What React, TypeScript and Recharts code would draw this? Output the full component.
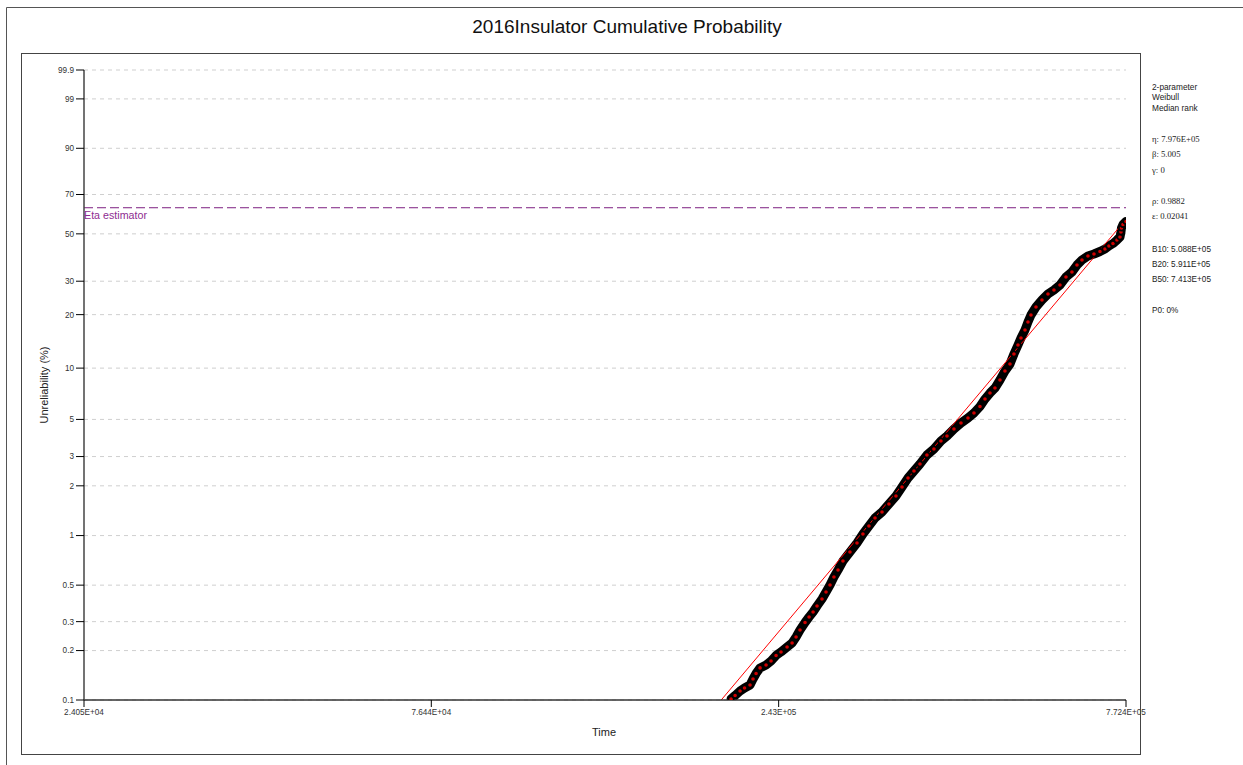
import React from "react";
import { ComposedChart, Line, XAxis, YAxis, CartesianGrid, ReferenceLine } from "recharts";

// failure times and their median-rank unreliability in %
const failureTime = [
  2.074e5, 2.102e5, 2.137e5, 2.169e5, 2.209e5, 2.231e5, 2.254e5, 2.284e5, 2.33e5, 2.369e5,
  2.409e5, 2.449e5, 2.499e5, 2.541e5, 2.575e5, 2.609e5, 2.653e5, 2.689e5, 2.725e5, 2.761e5,
  2.807e5, 2.845e5, 2.883e5, 2.921e5, 2.961e5, 3.01e5, 3.081e5, 3.154e5, 3.217e5, 3.282e5,
  3.349e5, 3.428e5, 3.508e5, 3.591e5, 3.664e5, 3.738e5, 3.813e5, 3.89e5, 3.981e5, 4.075e5,
  4.171e5, 4.256e5, 4.356e5, 4.459e5, 4.564e5, 4.656e5, 4.75e5, 4.83e5, 4.911e5, 4.993e5,
  5.077e5, 5.162e5, 5.249e5, 5.319e5, 5.391e5, 5.445e5, 5.518e5, 5.573e5, 5.629e5, 5.724e5,
  5.839e5, 5.957e5, 6.077e5, 6.2e5, 6.325e5, 6.452e5, 6.561e5, 6.671e5, 6.805e5, 6.943e5,
  7.083e5, 7.202e5, 7.298e5, 7.396e5, 7.495e5, 7.571e5, 7.596e5, 7.608e5, 7.647e5, 7.724e5,
];
const unreliability = [
  0.1015, 0.1065, 0.1135, 0.1184, 0.1235, 0.1343, 0.1451, 0.1568, 0.1635, 0.1729,
  0.1868, 0.1962, 0.2104, 0.2226, 0.2421, 0.2668, 0.2964, 0.3201, 0.3433, 0.3734,
  0.4119, 0.4544, 0.5011, 0.5604, 0.6181, 0.701, 0.795, 0.9014, 1.022, 1.143,
  1.278, 1.389, 1.553, 1.736, 1.967, 2.229, 2.457, 2.707, 3.065, 3.33,
  3.718, 3.982, 4.384, 4.76, 5.097, 5.457, 5.962, 6.602, 7.16, 7.66,
  8.531, 9.622, 10.56, 12.05, 13.56, 14.85, 16.46, 18.23, 19.91, 21.99,
  23.96, 25.78, 27.04, 28.69, 31.5, 33.36, 36.09, 38.14, 39.83, 40.69,
  41.79, 42.9, 44.26, 45.41, 47.05, 48.48, 50.91, 52.88, 54.63, 56.15,
];

// fitted 2-parameter Weibull line, end points
const fitTime = [2.007e5, 7.724e5];
const fitUnreliability = [0.1, 57.3];

const yTicks = [0.1, 0.2, 0.3, 0.5, 1, 2, 3, 5, 10, 20, 30, 50, 70, 90, 99, 99.9];
const xTicks = [24050, 76440, 243000, 772400];
const xTickLabels = ["2.405E+04", "7.644E+04", "2.43E+05", "7.724E+05"];
const etaUnreliability = 63.21;

const infoHeader = ["2-parameter", "Weibull", "Median rank"];
const infoParams = ["η: 7.976E+05", "β: 5.005", "γ: 0", "", "ρ: 0.9882", "ε: 0.02041"];
const infoLife = ["B10: 5.088E+05", "B20: 5.911E+05", "B50: 7.413E+05", "", "P0: 0%"];

// Weibull probability paper transform
const weib = (pct: number) => Math.log(-Math.log(1 - pct / 100));

const curveData = failureTime.map((t, i) => ({ t, w: weib(unreliability[i]) }));
const fitData = fitTime.map((t, i) => ({ t, w: weib(fitUnreliability[i]) }));
const yTickW = yTicks.map(weib);

const tickStyle = { fill: "#333", fontSize: 8.2, fontFamily: "Arial, 'Liberation Sans', sans-serif" };

export default function App() {
  return (
    <div style={{ position: "absolute", left: 0, top: 0, width: 1243, height: 765, background: "#fff", overflow: "hidden" }}>
      <ComposedChart
        width={1243}
        height={765}
        margin={{ top: 70, right: 117, bottom: 35, left: 20 }}
      >
        <CartesianGrid vertical={false} stroke="#cfcfcf" strokeDasharray="4 4" />
        <XAxis
          type="number"
          dataKey="t"
          scale="log"
          domain={[xTicks[0], xTicks[3]]}
          ticks={xTicks}
          allowDataOverflow
          height={30}
          tickSize={7}
          tickMargin={2}
          tick={tickStyle}
          tickFormatter={(v: number) => xTickLabels[xTicks.indexOf(v)] ?? ""}
          axisLine={{ stroke: "#333", strokeWidth: 1.5 }}
          tickLine={{ stroke: "#000" }}
        />
        <YAxis
          type="number"
          dataKey="w"
          domain={[yTickW[0], yTickW[yTickW.length - 1]]}
          ticks={yTickW}
          allowDataOverflow
          width={64}
          tickSize={8}
          tickMargin={2}
          tick={tickStyle}
          tickFormatter={(v: number) => {
            const i = yTickW.findIndex((w) => Math.abs(w - v) < 1e-6);
            return i >= 0 ? String(yTicks[i]) : "";
          }}
          axisLine={{ stroke: "#444", strokeWidth: 1.5 }}
          tickLine={{ stroke: "#000" }}
        />
        <ReferenceLine y={weib(etaUnreliability)} stroke="#7d1f80" strokeDasharray="9 4" />
        <Line
          data={curveData}
          dataKey="w"
          stroke="#000"
          strokeWidth={9}
          strokeLinejoin="round"
          strokeLinecap="round"
          dot={{ r: 2.6, fill: "#d00000", stroke: "#000", strokeWidth: 1.6 }}
          isAnimationActive={false}
        />
        <Line
          data={fitData}
          dataKey="w"
          stroke="#ff0000"
          strokeWidth={1}
          dot={false}
          isAnimationActive={false}
        />
      </ComposedChart>
      <svg
        width={1243}
        height={765}
        style={{ position: "absolute", left: 0, top: 0, pointerEvents: "none" }}
        fontFamily="Arial, 'Liberation Sans', sans-serif"
      >
        <path d="M6.5 765 V7.5 H1243" fill="none" stroke="#555" />
        <rect x={21.5} y={53.5} width={1119} height={701} fill="none" stroke="#444" />
        <text x={627} y={33} textAnchor="middle" fontSize={19} fill="#111">
          2016Insulator Cumulative Probability
        </text>
        <text x={604} y={736} textAnchor="middle" fontSize={11} fill="#222">Time</text>
        <text
          x={45}
          y={385}
          textAnchor="middle"
          dominantBaseline="middle"
          fontSize={11}
          fill="#222"
          transform="rotate(-90 45 385)"
        >
          Unreliability (%)
        </text>
        <text x={84} y={219} fontSize={10.7} fill="#8e2c91">Eta estimator</text>
        {infoHeader.map((s, i) => (
          <text key={s} x={1152} y={90 + i * 10.4} fontSize={8.3} fill="#222">{s}</text>
        ))}
        {infoParams.map((s, i) =>
          s ? (
            <text key={s} x={1152} y={142 + i * 15.4} fontSize={8.7} fill="#222" fontFamily="'Liberation Serif', 'DejaVu Serif', serif">
              {s}
            </text>
          ) : null
        )}
        {infoLife.map((s, i) =>
          s ? (
            <text key={s} x={1152} y={251.5 + i * 15.3} fontSize={8.2} fill="#222">{s}</text>
          ) : null
        )}
      </svg>
    </div>
  );
}
